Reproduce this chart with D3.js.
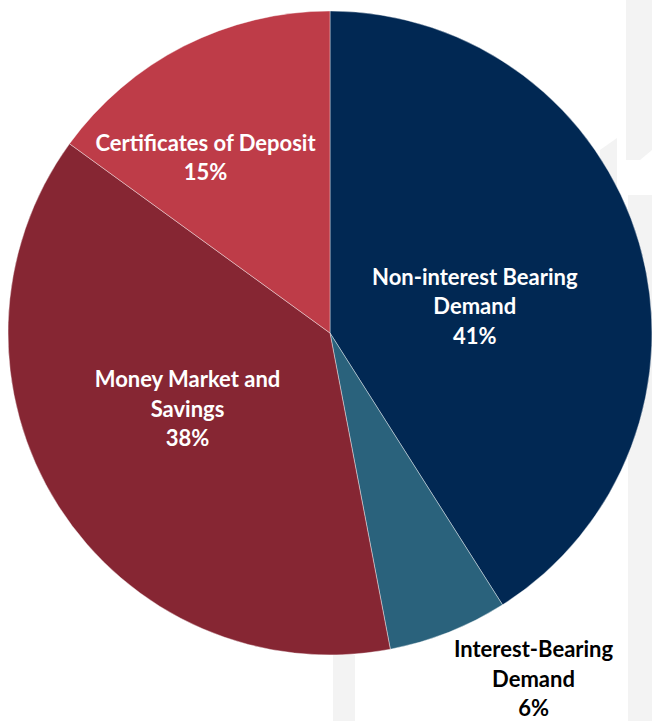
<!DOCTYPE html>
<html>
<head>
<meta charset="utf-8">
<script src="https://cdn.jsdelivr.net/npm/d3@7"></script>
<style>
  html, body { margin: 0; padding: 0; background: #ffffff; }
  svg { display: block; }
</style>
</head>
<body>
<svg id="chart" width="652" height="721"></svg>
<script>
// ---- data ----
const categories = ["Non-interest Bearing Demand", "Interest-Bearing Demand", "Money Market and Savings", "Certificates of Deposit"];
const values = [41, 6, 38, 15];
const labelLines = [["Non-interest Bearing", "Demand", "41%"], ["Interest-Bearing", "Demand", "6%"], ["Money Market and", "Savings", "38%"], ["Certificates of Deposit", "15%"]];
const colors = ["#012853", "#2a627c", "#862633", "#be3c48"];

// ---- layout ----
const W = 652, H = 721;
const cx = 330, cy = 333, R = 322;
const svg = d3.select("#chart");

// faint background watermark
const wm = svg.append("g").attr("fill", "#f3f3f3");
wm.append("rect").attr("x", 626).attr("y", 0).attr("width", 26).attr("height", 112);
wm.append("polygon").attr("points", "626,112 652,112 652,150 640,160 626,160");
wm.append("polygon").attr("points", "600,150 617,138 617,205 600,215");
wm.append("rect").attr("x", 628).attr("y", 195).attr("width", 24).attr("height", 526);
wm.append("rect").attr("x", 333).attr("y", 655).attr("width", 22).attr("height", 66);

const pie = d3.pie().sort(null).value(d => d)
  .startAngle(0).endAngle(2 * Math.PI);
const arcs = pie(values);
const arc = d3.arc().innerRadius(0).outerRadius(R);

const g = svg.append("g").attr("transform", `translate(${cx},${cy})`);
g.selectAll("path.slice").data(arcs).enter().append("path")
  .attr("class", "slice")
  .attr("d", arc)
  .attr("fill", (d, i) => colors[i])
  .attr("stroke", "#ffffff")
  .attr("stroke-width", 0.4);

// label placement: radius (fraction of R) and position within slice angle
const labelR = [0.457, 1.247, 0.502, 0.667];
const labelT = [0.54, 0.09, 0.531, 0.344];
const labelColor = ["#ffffff", "#000000", "#ffffff", "#ffffff"];
const lineH = 29.5;

arcs.forEach((a, i) => {
  const ang = a.startAngle + (a.endAngle - a.startAngle) * labelT[i];
  const x = Math.sin(ang) * R * labelR[i];
  const y = -Math.cos(ang) * R * labelR[i];
  const lines = labelLines[i];
  const t = g.append("text")
    .attr("text-anchor", "middle")
    .attr("font-family", "Lato, 'Open Sans', sans-serif")
    .attr("font-weight", "bold")
    .attr("font-size", 22)
    .attr("fill", labelColor[i]);
  const y0 = y - (lines.length - 1) * lineH / 2;
  lines.forEach((ln, j) => {
    t.append("tspan").attr("x", x).attr("y", y0 + j * lineH).attr("dy", "0.35em").text(ln);
  });
});
</script>
</body>
</html>
